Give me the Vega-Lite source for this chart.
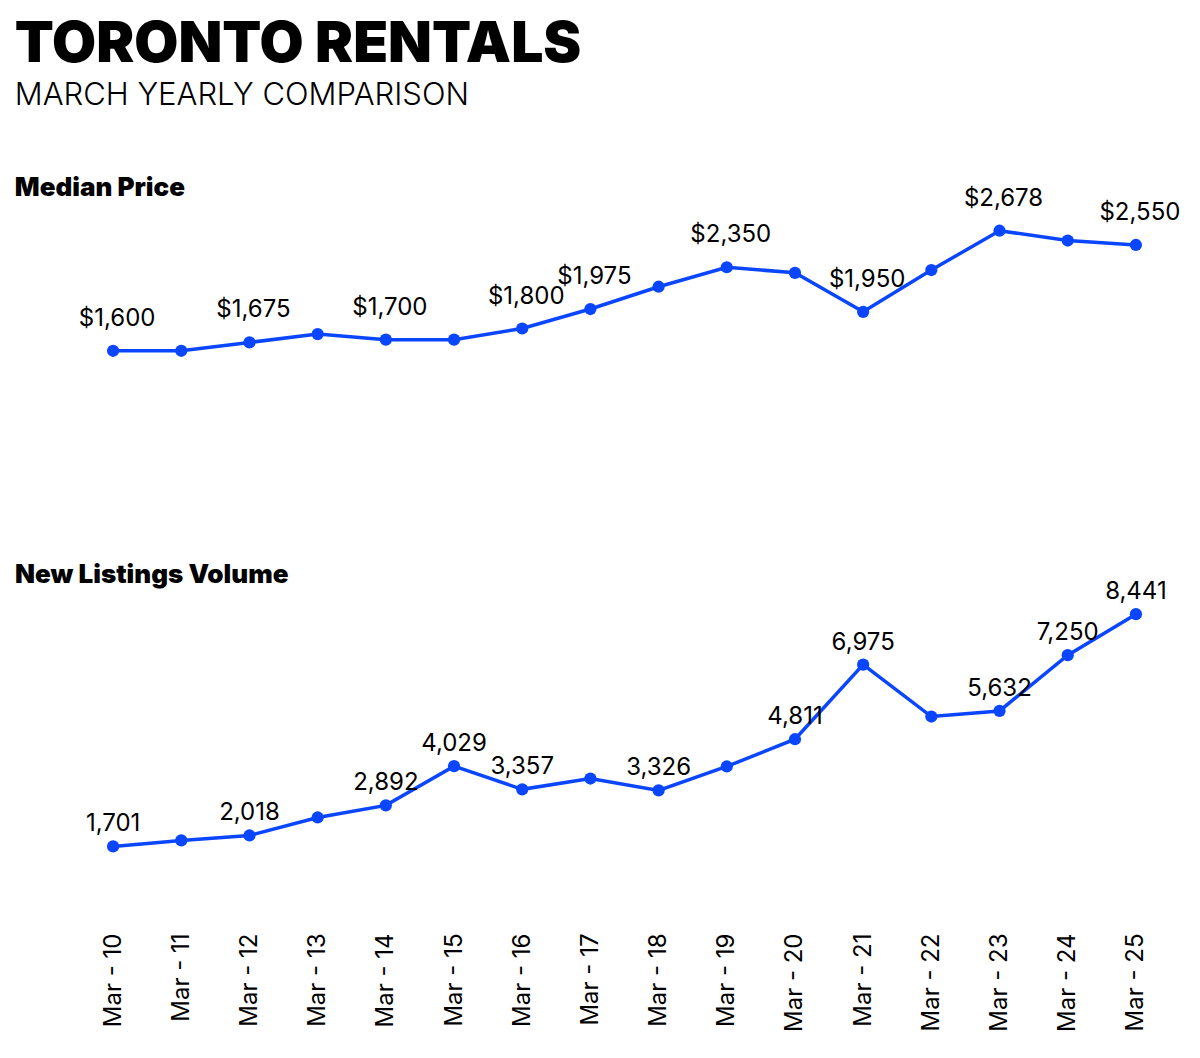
{
  "$schema": "https://vega.github.io/schema/vega-lite/v6.json",
  "background": "white",
  "padding": {"left": 14, "top": 15, "right": 0, "bottom": 0},
  "autosize": {"type": "pad"},
  "config": {"view": {"stroke": null}, "font": "Inter"},
  "title": {
    "text": "TORONTO RENTALS",
    "subtitle": "MARCH YEARLY COMPARISON",
    "anchor": "start",
    "font": "Inter",
    "fontSize": 57,
    "fontWeight": 900,
    "color": "black",
    "subtitleFont": "Inter",
    "subtitleFontSize": 31,
    "subtitleFontWeight": 300,
    "subtitleColor": "black",
    "subtitlePadding": 7,
    "offset": 63
  },
  "datasets": {
    "d": [
      {"year": "Mar - 10", "price": 1600, "listings": 1701, "priceLabel": "$1,600", "listLabel": "1,701"},
      {"year": "Mar - 11", "price": 1600, "listings": 1875, "priceLabel": null, "listLabel": null},
      {"year": "Mar - 12", "price": 1675, "listings": 2018, "priceLabel": "$1,675", "listLabel": "2,018"},
      {"year": "Mar - 13", "price": 1750, "listings": 2540, "priceLabel": null, "listLabel": null},
      {"year": "Mar - 14", "price": 1700, "listings": 2892, "priceLabel": "$1,700", "listLabel": "2,892"},
      {"year": "Mar - 15", "price": 1700, "listings": 4029, "priceLabel": null, "listLabel": "4,029"},
      {"year": "Mar - 16", "price": 1800, "listings": 3357, "priceLabel": "$1,800", "listLabel": "3,357"},
      {"year": "Mar - 17", "price": 1975, "listings": 3670, "priceLabel": "$1,975", "listLabel": null},
      {"year": "Mar - 18", "price": 2175, "listings": 3326, "priceLabel": null, "listLabel": "3,326"},
      {"year": "Mar - 19", "price": 2350, "listings": 4020, "priceLabel": "$2,350", "listLabel": null},
      {"year": "Mar - 20", "price": 2300, "listings": 4811, "priceLabel": null, "listLabel": "4,811"},
      {"year": "Mar - 21", "price": 1950, "listings": 6975, "priceLabel": "$1,950", "listLabel": "6,975"},
      {"year": "Mar - 22", "price": 2325, "listings": 5470, "priceLabel": null, "listLabel": null},
      {"year": "Mar - 23", "price": 2678, "listings": 5632, "priceLabel": "$2,678", "listLabel": "5,632"},
      {"year": "Mar - 24", "price": 2590, "listings": 7250, "priceLabel": null, "listLabel": "7,250"},
      {"year": "Mar - 25", "price": 2550, "listings": 8441, "priceLabel": "$2,550", "listLabel": "8,441"}
    ]
  },
  "spacing": 111,
  "vconcat": [
    {
      "width": 1091,
      "height": 245,
      "title": {"text": "Median Price", "anchor": "start", "dx": -64, "font": "Inter", "fontSize": 26, "fontWeight": 900, "color": "black", "offset": -14},
      "data": {"name": "d"},
      "encoding": {
        "x": {"field": "year", "type": "ordinal", "sort": null, "scale": {"type": "point", "padding": 0.5}, "axis": null},
        "y": {"field": "price", "type": "quantitative", "scale": {"domain": [700, 2900], "zero": false}, "axis": null}
      },
      "layer": [
        {"mark": {"type": "line", "color": "#0a46ff", "strokeWidth": 3.5}},
        {"mark": {"type": "point", "filled": true, "opacity": 1, "size": 150, "color": "#0a46ff"}},
        {
          "transform": [{"filter": "datum.priceLabel != null"}],
          "mark": {"type": "text", "dy": -32, "dx": 4, "fontSize": 24, "font": "Inter", "fontWeight": 400, "color": "black"},
          "encoding": {"text": {"field": "priceLabel"}}
        }
      ]
    },
    {
      "width": 1091,
      "height": 317,
      "title": {"text": "New Listings Volume", "anchor": "start", "dx": -64, "font": "Inter", "fontSize": 26, "fontWeight": 900, "color": "black", "offset": -8},
      "data": {"name": "d"},
      "encoding": {
        "x": {"field": "year", "type": "ordinal", "sort": null, "scale": {"type": "point", "padding": 0.5},
          "axis": {"title": null, "labelAngle": -90, "labelFontSize": 24, "labelFont": "Inter", "labelFontWeight": 400, "labelColor": "black", "ticks": false, "domain": false, "grid": false, "labelPadding": 28}},
        "y": {"field": "listings", "type": "quantitative", "scale": {"domain": [0, 9200], "zero": false}, "axis": null}
      },
      "layer": [
        {"mark": {"type": "line", "color": "#0a46ff", "strokeWidth": 3.5}},
        {"mark": {"type": "point", "filled": true, "opacity": 1, "size": 150, "color": "#0a46ff"}},
        {
          "transform": [{"filter": "datum.listLabel != null"}],
          "mark": {"type": "text", "dy": -22, "fontSize": 24, "font": "Inter", "fontWeight": 400, "color": "black"},
          "encoding": {"text": {"field": "listLabel"}}
        }
      ]
    }
  ]
}
